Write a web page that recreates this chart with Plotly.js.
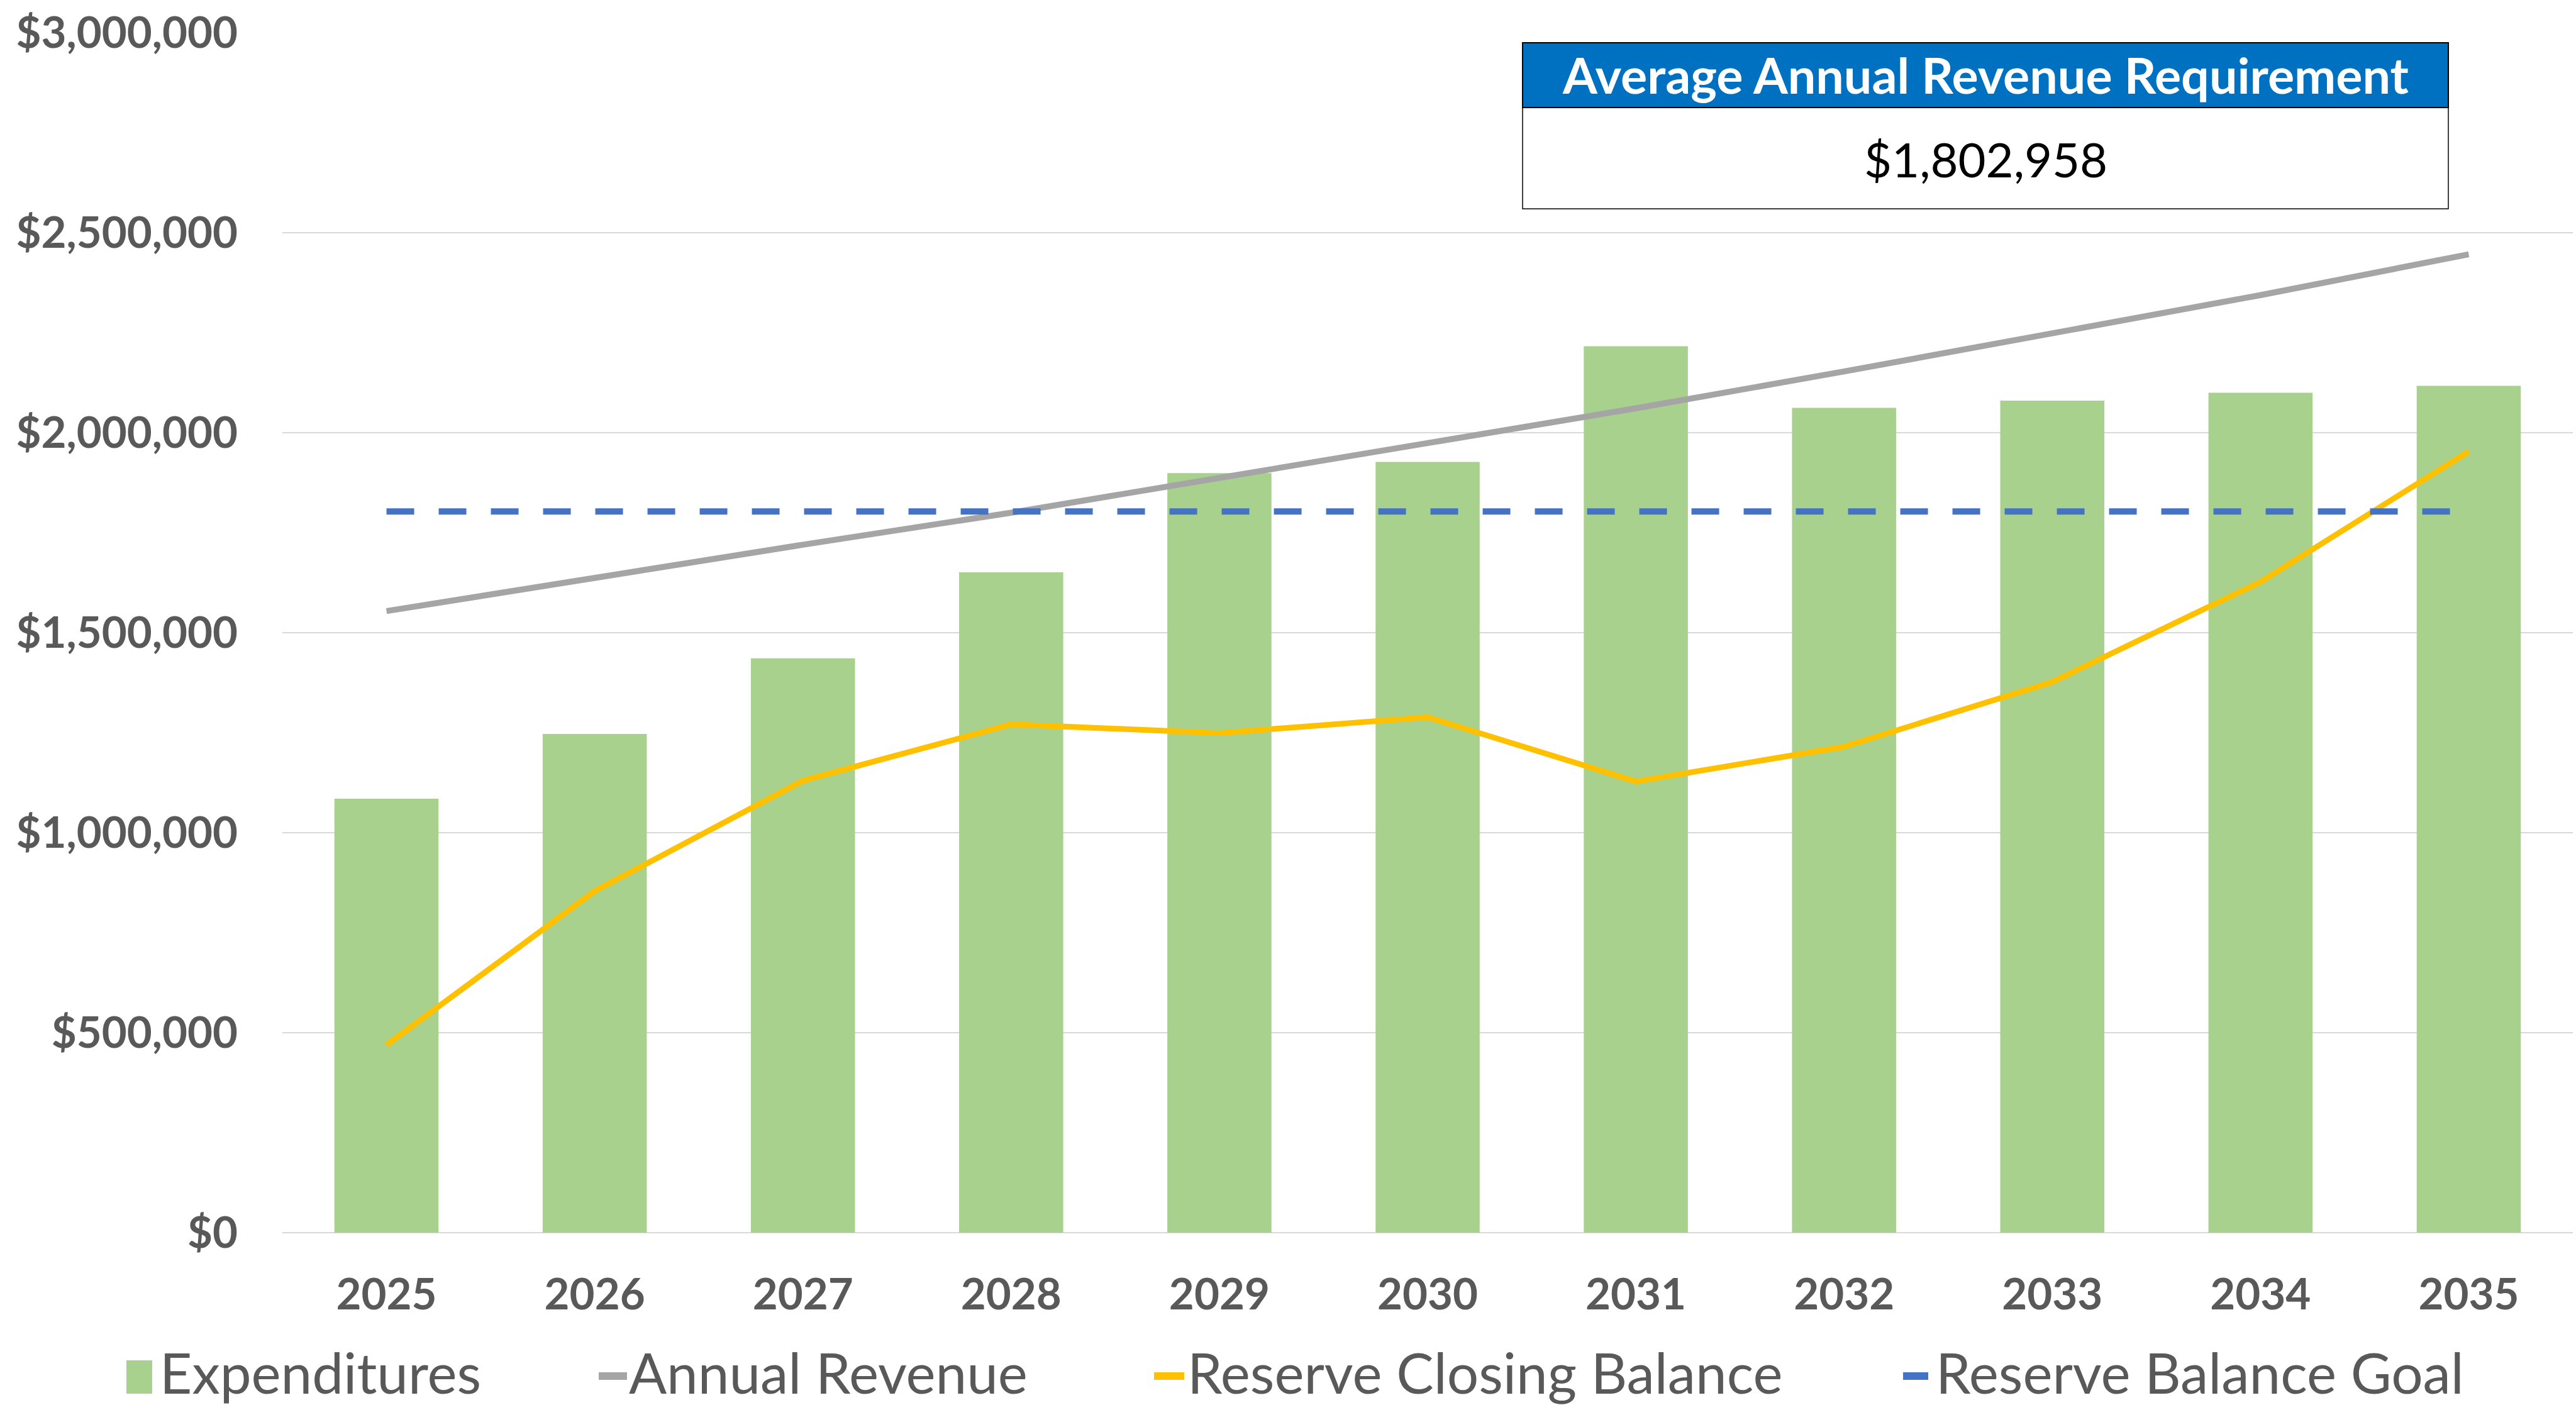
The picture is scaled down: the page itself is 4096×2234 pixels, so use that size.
<!DOCTYPE html>
<html>
<head>
<meta charset="utf-8">
<script src="https://cdn.plot.ly/plotly-3.0.1.min.js"></script>
<style>
html,body{margin:0;padding:0;background:#fff;}
#chart{width:4096px;height:2234px;}
</style>
</head>
<body>
<div id="chart"></div>
<script>
// ---- data ----
var years = ['2025','2026','2027','2028','2029','2030','2031','2032','2033','2034','2035'];
var expenditures = [1085000, 1247000, 1436000, 1651000, 1899000, 1927000, 2216000, 2062000, 2080000, 2100000, 2117000];
var annualRevenue = [1554000, 1638000, 1720000, 1800000, 1887000, 1974000, 2061000, 2153000, 2247000, 2344000, 2446000];
var reserveClosing = [469000, 854000, 1130000, 1271000, 1249000, 1289000, 1128000, 1215000, 1377000, 1627000, 1953000];
var reserveGoal = [1802958, 1802958, 1802958, 1802958, 1802958, 1802958, 1802958, 1802958, 1802958, 1802958, 1802958];
var avgRequirement = 1802958;
var seriesNames = ['Expenditures', 'Annual Revenue', 'Reserve Closing Balance', 'Reserve Balance Goal'];
var boxTitle = 'Average Annual Revenue Requirement';
var yTickVals = [0, 500000, 1000000, 1500000, 2000000, 2500000, 3000000];

// ---- layout geometry ----
var W = 4096, H = 2234;
var M = {l: 449, r: 5, t: 52, b: 274};
function px2x(px){ return (px - M.l) / (W - M.l - M.r); }
function py2y(py){ return (H - M.b - py) / (H - M.t - M.b); }

var cBar = '#A9D18E', cRev = '#A5A5A5', cRes = '#FFC000', cGoal = '#4472C4';
var cText = '#595959';

var traces = [
  {type:'bar', name:seriesNames[0], x:years, y:expenditures, marker:{color:cBar}, showlegend:false},
  {type:'scatter', mode:'lines', name:seriesNames[1], x:years, y:annualRevenue, line:{color:cRev, width:9.5}, showlegend:false},
  {type:'scatter', mode:'lines', name:seriesNames[2], x:years, y:reserveClosing, line:{color:cRes, width:9}, showlegend:false},
  {type:'scatter', mode:'lines', name:seriesNames[3], x:years, y:reserveGoal, line:{color:cGoal, width:10, dash:'44px,39px'}, showlegend:false}
];

function fmtMoney(v){ return '$' + v.toLocaleString('en-US'); }

// manual legend
var legendItems = [
  {kind:'rect', color:cBar, sx0:201, sx1:242, tx:252, name:seriesNames[0]},
  {kind:'line', color:cRev, sx0:952, sx1:997, tx:998, name:seriesNames[1]},
  {kind:'line', color:cRes, sx0:1835, sx1:1883, tx:1886, name:seriesNames[2]},
  {kind:'line', color:cGoal, sx0:3026, sx1:3066, tx:3076, name:seriesNames[3]}
];
var legendY = 2188;
var legendTextY = 2181;

var shapes = [];
var annotations = [];
legendItems.forEach(function(it){
  if(it.kind === 'rect'){
    shapes.push({type:'rect', xref:'paper', yref:'paper', x0:px2x(it.sx0), x1:px2x(it.sx1),
      y0:py2y(2216), y1:py2y(2163), fillcolor:it.color, line:{width:0}});
  } else {
    shapes.push({type:'line', xref:'paper', yref:'paper', x0:px2x(it.sx0), x1:px2x(it.sx1),
      y0:py2y(legendY), y1:py2y(legendY), line:{color:it.color, width:12}});
  }
  annotations.push({xref:'paper', yref:'paper', x:px2x(it.tx), y:py2y(legendTextY), xanchor:'left', yanchor:'middle',
    text:it.name, showarrow:false, font:{family:'Lato', size:89, color:cText}});
});

// summary box
var bx0 = 2421, bx1 = 3893, by0 = 68, byh = 171, by1 = 332;
shapes.push({type:'rect', xref:'paper', yref:'paper', layer:'above', x0:px2x(bx0), x1:px2x(bx1), y0:py2y(by1), y1:py2y(byh),
  fillcolor:'#FFFFFF', line:{color:'#000000', width:1.5}});
shapes.push({type:'rect', xref:'paper', yref:'paper', layer:'above', x0:px2x(bx0), x1:px2x(bx1), y0:py2y(byh), y1:py2y(by0),
  fillcolor:'#0070C0', line:{color:'#000000', width:2}});
annotations.push({xref:'paper', yref:'paper', x:px2x((bx0+bx1)/2), y:py2y(119), xanchor:'center', yanchor:'middle',
  text:'<b>' + boxTitle + '</b>', showarrow:false, font:{family:'Lato', size:79, color:'#FFFFFF'}});
annotations.push({xref:'paper', yref:'paper', x:px2x((bx0+bx1)/2), y:py2y(252), xanchor:'center', yanchor:'middle',
  text:fmtMoney(avgRequirement), showarrow:false, font:{family:'Lato', size:76, color:'#000000'}});

var layout = {
  width: W, height: H,
  margin: M,
  paper_bgcolor:'#FFFFFF', plot_bgcolor:'#FFFFFF',
  font:{family:'Lato', color:cText},
  bargap: 0.5,
  showlegend:false,
  xaxis:{type:'category', range:[-0.5, 10.5], showgrid:false, zeroline:false, showline:false, ticks:'',
    tickfont:{family:'Lato', size:69, color:cText, weight:'bold'}, ticklabelstandoff:52},
  yaxis:{range:[0, 3000000], tickvals:yTickVals, ticktext:yTickVals.map(fmtMoney),
    showgrid:true, gridcolor:'#D9D9D9', gridwidth:1.5, zeroline:true, zerolinecolor:'#D9D9D9', zerolinewidth:2,
    showline:false, ticks:'', tickfont:{family:'Lato', size:69, color:cText, weight:'bold'}, ticklabelstandoff:70},
  shapes: shapes,
  annotations: annotations
};

Plotly.newPlot('chart', traces, layout, {staticPlot:true, displayModeBar:false});
</script>
</body>
</html>
